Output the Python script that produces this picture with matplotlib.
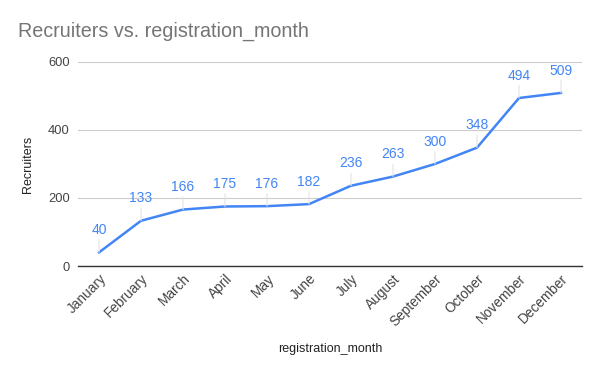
import matplotlib.pyplot as plt

# Chart data
months = ['January', 'February', 'March', 'April', 'May', 'June', 'July',
          'August', 'September', 'October', 'November', 'December']
recruiters = [40, 133, 166, 175, 176, 182, 236, 263, 300, 348, 494, 509]

BLUE = '#4285F4'
GREY = '#444444'

plt.rcParams['font.family'] = ['Liberation Sans', 'DejaVu Sans']

fig = plt.figure(figsize=(6, 3.71), dpi=100)
ax = fig.add_axes([0.13, 0.283, 0.84, 0.55])

x = list(range(len(months)))
ax.plot(x, recruiters, color=BLUE, linewidth=1.8, zorder=3)

# data labels with faint leader lines
for xi, v in zip(x, recruiters):
    ax.annotate(str(v), (xi, v), xytext=(0, 11), textcoords='offset points',
                ha='center', va='bottom', color=BLUE, fontsize=10,
                arrowprops=dict(arrowstyle='-', color='#e3e3e3', lw=0.8,
                                shrinkA=0, shrinkB=0))

ax.set_xlim(-0.5, len(months) - 0.5)
ax.set_ylim(0, 600)
ax.set_yticks([0, 200, 400, 600])
ax.set_xticks(x)
ax.set_xticklabels(months, rotation=45, ha='right', rotation_mode='anchor')
ax.tick_params(axis='y', length=0, labelsize=9.3, labelcolor=GREY, pad=6)
ax.tick_params(axis='x', length=0, labelsize=9.8, labelcolor=GREY, pad=4)

ax.grid(axis='y', color='#cccccc', linewidth=0.8)
ax.set_axisbelow(True)
for s in ['top', 'right', 'left']:
    ax.spines[s].set_visible(False)
ax.spines['bottom'].set_color('#333333')
ax.spines['bottom'].set_linewidth(1)

ax.set_ylabel('Recruiters', fontsize=9, color='#222222', labelpad=10)
ax.set_xlabel('registration_month', fontsize=9, color='#222222', labelpad=10)

fig.text(0.03, 0.915, 'Recruiters vs. registration_month', fontsize=14.2,
         color='#757575', va='center', ha='left')

fig.savefig('out.png', dpi=100)
